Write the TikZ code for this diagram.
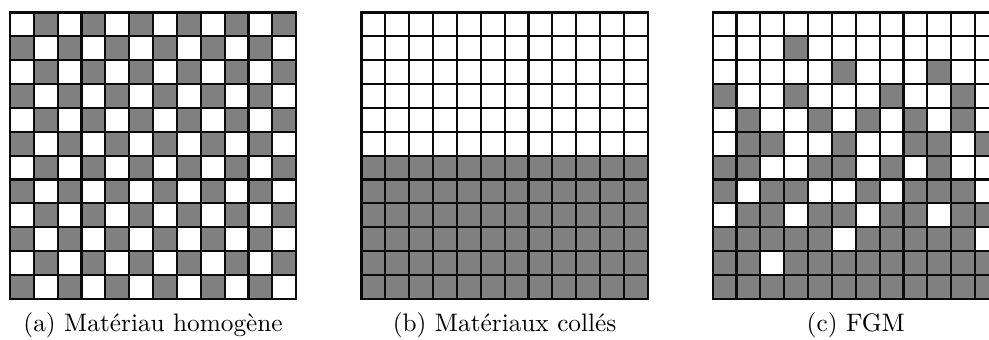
\documentclass[tikz,border=0pt]{standalone}
\usepackage{tikz}
\definecolor{cFill}{RGB}{128,128,128}
\definecolor{cLine}{RGB}{10,10,10}
\tikzset{
  cellW/.style={draw=cLine, fill=white, line width=0.85pt},
  cellG/.style={draw=cLine, fill=cFill, line width=0.85pt},
  caption/.style={anchor=base, inner sep=0pt, font=\normalsize},
}

\begin{document}
\begin{tikzpicture}[x=0.0139cm, y=-0.0139cm]

% ===== page frame (pixels of the reference) =====
\useasboundingbox (0,0) rectangle (989,340);

% ===== grid coordinates =====
\def\cell{23.85}   % cell size
\def\colA{10.0}    % left edge of grid (a)
\def\colB{361.5}   % left edge of grid (b)
\def\colC{712.7}   % left edge of grid (c)
\def\rowT{12.5}    % top edge of all grids
\def\capY{331}     % caption baseline

% ===== (a) homogeneous: checkerboard =====
\foreach \r in {0,...,11}{
  \foreach \c in {0,...,11}{
    \pgfmathtruncatemacro{\odd}{mod(\r+\c,2)}
    \ifnum\odd=0
      \draw[cellW] (\colA+\c*\cell,\rowT+\r*\cell) rectangle ++(\cell,\cell);
    \else
      \draw[cellG] (\colA+\c*\cell,\rowT+\r*\cell) rectangle ++(\cell,\cell);
    \fi
  }
}

% ===== (b) bonded: white top half, grey bottom half =====
\foreach \r in {0,...,11}{
  \foreach \c in {0,...,11}{
    \ifnum\r<6
      \draw[cellW] (\colB+\c*\cell,\rowT+\r*\cell) rectangle ++(\cell,\cell);
    \else
      \draw[cellG] (\colB+\c*\cell,\rowT+\r*\cell) rectangle ++(\cell,\cell);
    \fi
  }
}

% ===== (c) FGM: graded mix, 1 = grey =====
\foreach \line [count=\r from 0] in {
  {0,0,0,0,0,0,0,0,0,0,0,0},
  {0,0,0,1,0,0,0,0,0,0,0,0},
  {0,0,0,0,0,1,0,0,0,1,0,0},
  {1,0,0,1,0,0,0,1,0,0,1,0},
  {0,1,0,0,1,0,1,0,1,0,1,0},
  {0,1,1,0,0,1,0,0,1,1,0,1},
  {1,1,0,0,1,1,0,1,0,1,0,0},
  {1,0,1,1,0,0,1,0,1,1,1,0},
  {0,1,1,0,1,1,0,1,1,0,1,1},
  {1,1,1,1,1,0,1,1,1,1,1,0},
  {1,1,0,1,1,1,1,1,1,1,1,1},
  {1,1,1,1,1,1,1,1,1,1,1,1}}{
  \foreach \v [count=\c from 0] in \line{
    \ifnum\v=0
      \draw[cellW] (\colC+\c*\cell,\rowT+\r*\cell) rectangle ++(\cell,\cell);
    \else
      \draw[cellG] (\colC+\c*\cell,\rowT+\r*\cell) rectangle ++(\cell,\cell);
    \fi
  }
}

% ===== captions =====
\node[caption] (capA) at (\colA+6*\cell,\capY) {(a) Matériau homogène};
\node[caption] (capB) at (\colB+6*\cell,\capY) {(b) Matériaux collés};
\node[caption] (capC) at (\colC+6*\cell,\capY) {(c) FGM};

\end{tikzpicture}
\end{document}
